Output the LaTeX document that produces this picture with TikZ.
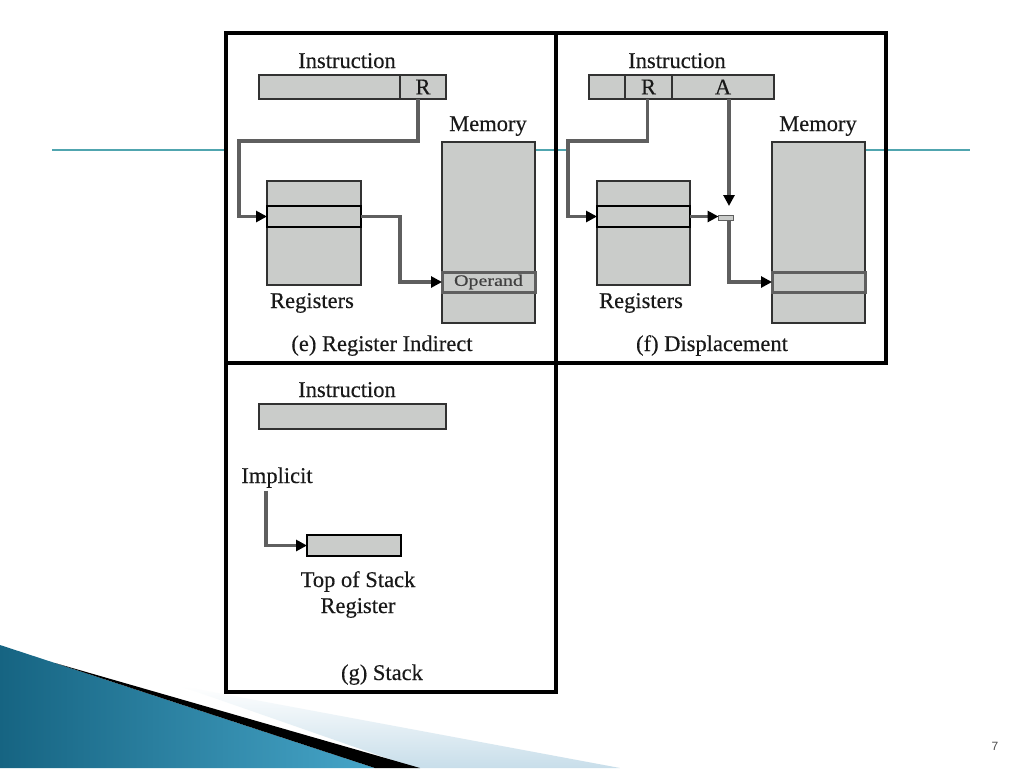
\documentclass[tikz,border=0pt]{standalone}
\usepackage{fontspec}
\setmainfont{Liberation Serif}
\newfontfamily\diagfont{Liberation Serif}[FakeBold=0.3]
\newfontfamily\pagefont{Liberation Sans}
\usetikzlibrary{arrows.meta,calc}
\definecolor{boxfill}{RGB}{202,204,202}
\definecolor{boxline}{RGB}{50,50,50}
\definecolor{connc}{RGB}{95,95,95}
\definecolor{tealline}{RGB}{80,165,175}
\definecolor{deepblue}{RGB}{22,100,130}
\definecolor{midblue}{RGB}{70,165,200}
\definecolor{paleblue}{RGB}{200,222,234}
\begin{document}
\begin{tikzpicture}[x=1pt,y=-1pt,
  box/.style={draw=boxline, fill=boxfill, line width=2.2pt, inner sep=0pt, outer sep=0pt, anchor=north west},
  regrow/.style={draw=black, line width=2pt, inner sep=0pt, outer sep=0pt, anchor=north west},
  memrow/.style={draw=connc, line width=3pt, inner sep=0pt, outer sep=0pt, anchor=north west},
  conn/.style={draw=connc, line width=3.2pt, -{Triangle[length=11pt,width=11pt,color=black]}},
  lbl/.style={font=\diagfont\fontsize{22.5}{26}\selectfont, inner sep=0pt, anchor=base, text=black!90},
  fld/.style={font=\diagfont\fontsize{22.5}{26}\selectfont, text=black!90},
  panel/.style={draw=black, line width=3.6pt}]
\useasboundingbox (0,0) rectangle (1024,768);
\fill[white] (0,0) rectangle (1024,768);

% slide decoration
\shade[top color=white, bottom color=paleblue] (180,686) -- (620,768) -- (415,768) -- cycle;
\shade[left color=deepblue, right color=midblue] (0,645) -- (375,768) -- (0,768) -- cycle;
\fill[black] (55,663) -- (420,768) -- (375,768) -- cycle;

% teal rule
\draw[tealline, line width=1.4pt] (52,150) -- (226,150);
\draw[tealline, line width=1.4pt] (536,150) -- (570,150);
\draw[tealline, line width=1.4pt] (865,150) -- (970,150);

% panels
\draw[panel] (226,33) rectangle (556,363);
\draw[panel] (556,33) rectangle (886,363);
\draw[panel] (226,363) rectangle (556,692);

% ---------- (e) Register Indirect ----------
\node[lbl] (eInstrL) at (347,68) {Instruction};
\node[box, minimum width=141pt, minimum height=24pt] (eI1) at (259,75) {};
\node[box, minimum width=46pt, minimum height=24pt, fld] (eR) at (400,75) {R};
\node[lbl] (eMemL) at (488,131) {Memory};
\node[box, minimum width=94pt, minimum height=104pt] (eReg) at (267,181) {};
\node[regrow, minimum width=94pt, minimum height=21pt] (eRegRow) at (267,206) {};
\node[lbl] (eRegL) at (312,308) {Registers};
\node[box, minimum width=93pt, minimum height=181pt] (eMem) at (442,142) {};
\node[memrow, minimum width=93pt, minimum height=20pt, font=\diagfont\fontsize{16}{18}\selectfont, text=black!75] (eMemRow) at (442,272) {\scalebox{1.25}[1]{Operand}};
\node[lbl] (eCap) at (382,351) {(e) Register Indirect};
\coordinate (eB1) at (239,141);
\draw[conn] ([xshift=-5pt]eR.south) |- (eB1) |- (eRegRow.west);
\draw[conn] (eRegRow.east) -| ([xshift=-42pt]eMemRow.west) -- (eMemRow.west);

% ---------- (f) Displacement ----------
\node[lbl] (fInstrL) at (677,68) {Instruction};
\node[box, minimum width=36pt, minimum height=24pt] (fI1) at (589,75) {};
\node[box, minimum width=47pt, minimum height=24pt, fld] (fR) at (625,75) {R};
\node[box, minimum width=102pt, minimum height=24pt, fld] (fA) at (672,75) {A};
\node[lbl] (fMemL) at (818,131) {Memory};
\node[box, minimum width=93pt, minimum height=104pt] (fReg) at (597,181) {};
\node[regrow, minimum width=93pt, minimum height=21pt] (fRegRow) at (597,206) {};
\node[lbl] (fRegL) at (641,308) {Registers};
\node[box, minimum width=93pt, minimum height=181pt] (fMem) at (772,142) {};
\node[memrow, minimum width=93pt, minimum height=20pt] (fMemRow) at (772,272) {};
\node[draw=connc, fill=boxfill, line width=1pt, minimum width=15pt, minimum height=5pt, inner sep=0pt, outer sep=0pt] (fAdd) at (726,218) {};
\node[lbl] (fCap) at (712,351) {(f) Displacement};
\coordinate (fB1) at (568,141);
\coordinate (fAtip) at (729,206);
\draw[conn] ([xshift=-1pt]fR.south) |- (fB1) |- (fRegRow.west);
\draw[conn] (fRegRow.east) -- (fRegRow.east -| fAdd.west);
\draw[conn] ([xshift=6pt]fA.south) -- (fAtip);
\draw[conn] ([xshift=3pt]fAdd.south) |- (fMemRow.west);

% ---------- (g) Stack ----------
\node[lbl] (gInstrL) at (347,397) {Instruction};
\node[box, minimum width=187pt, minimum height=25pt] (gI) at (259,404) {};
\node[lbl] (gImp) at (277,483) {Implicit};
\node[box, draw=black, minimum width=94pt, minimum height=21pt] (gTos) at (307,535) {};
\node[lbl] (gTosL1) at (358,587) {Top of Stack};
\node[lbl] (gTosL2) at (358,613) {Register};
\node[lbl] (gCap) at (382,680) {(g) Stack};
\draw[conn] ([xshift=-11pt,yshift=-3pt]gImp.south) |- (gTos.west);

% page number
\node[font=\pagefont\fontsize{12}{14}\selectfont, text=black!70, anchor=base, inner sep=0pt] (pg) at (995,750) {7};
\end{tikzpicture}
\end{document}
